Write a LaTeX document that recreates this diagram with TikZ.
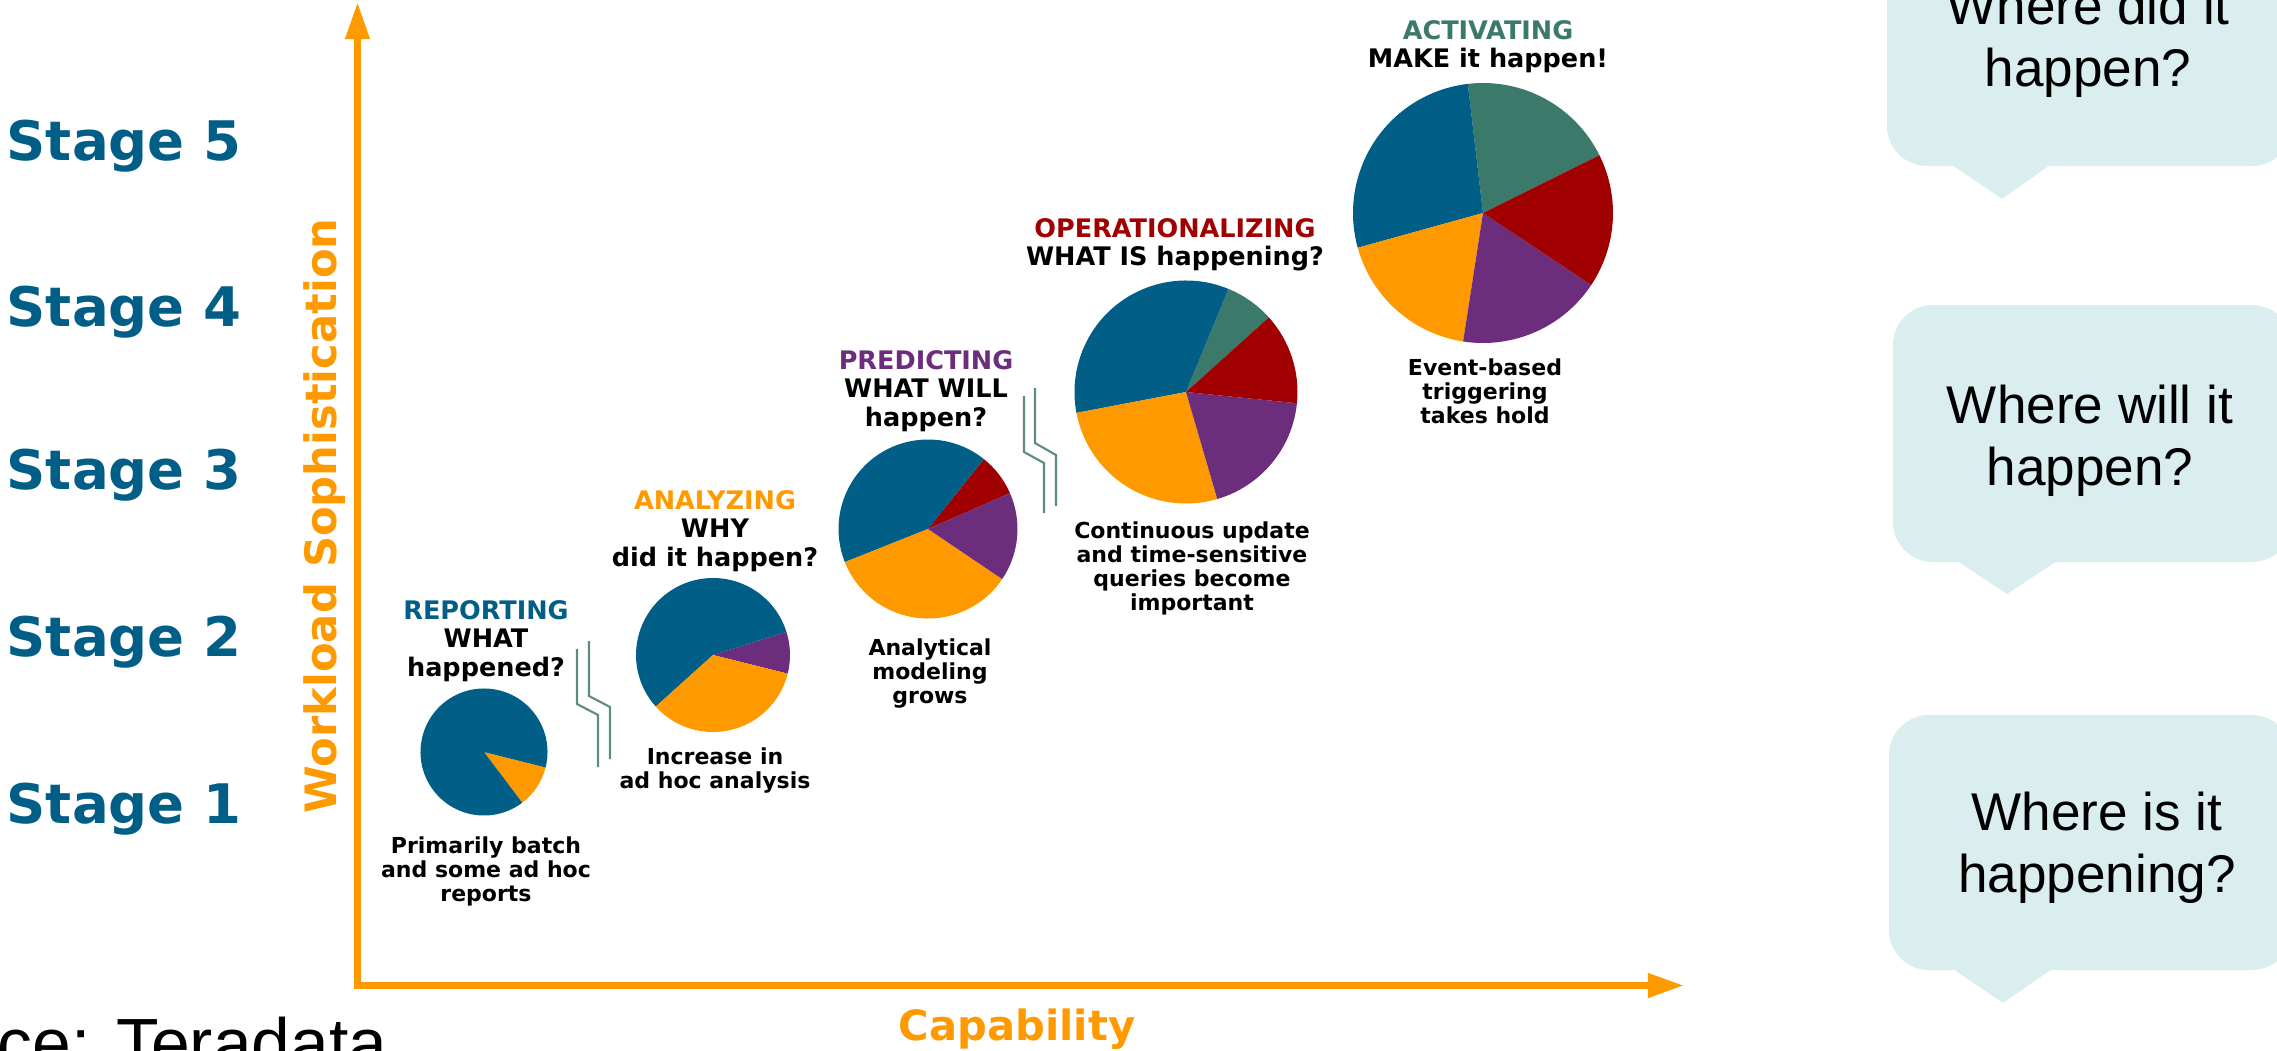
\documentclass[tikz,border=0pt]{standalone}
\usepackage{fontspec}
\setmainfont{DejaVu Sans}
\newfontfamily\arialf{Liberation Sans}
\usetikzlibrary{arrows.meta}

\definecolor{tdblue}{HTML}{005E87}
\definecolor{tdorange}{HTML}{FF9900}
\definecolor{tdpurple}{HTML}{6B2D7C}
\definecolor{tdred}{HTML}{A00000}
\definecolor{tdteal}{HTML}{3B7A6B}
\definecolor{bubblefill}{HTML}{DAEDEF}
\definecolor{zigcol}{HTML}{5E8C7E}

% centred lines whose baseline is the baseline of the first line
\newcommand\stacklines[1]{\vtop{\halign{\hfil##\hfil\cr#1\crcr}}}
% one pie slice: centre, radius, start angle, end angle, colour (angles counted anticlockwise)
\newcommand\pieslice[5]{%
  \fill[#5] (#1) -- ++({-(#3)}:#2) arc[start angle={-(#3)}, end angle={-(#4)}, radius=#2] -- cycle;}

\begin{document}
\begin{tikzpicture}[x=0.01cm, y=-0.01cm,
  lbl/.style={font=\bfseries\fontsize{7.26pt}{8.2pt}\selectfont, inner sep=0pt, anchor=base},
  dsc/.style={font=\bfseries\fontsize{6.26pt}{6.83pt}\selectfont, inner sep=0pt, anchor=base},
  stagelbl/.style={font=\bfseries\fontsize{15.5pt}{18pt}\selectfont, text=tdblue, inner sep=0pt, anchor=base west},
  bubtxt/.style={font=\arialf\fontsize{15.1pt}{17.8pt}\selectfont, inner sep=0pt, anchor=base},
  axislbl/.style={font=\bfseries, text=tdorange, inner sep=0pt, anchor=base},
  axis/.style={line width=2pt, draw=tdorange, line join=miter},
  zig/.style={draw=zigcol, line width=0.6pt},
  bubble/.style={fill=bubblefill},
]
\useasboundingbox (0,0) rectangle (2277,1051);

% ---------- stage names ----------
\node[stagelbl] (s5) at (6,160) {Stage 5};
\node[stagelbl] (s4) at (6,326) {Stage 4};
\node[stagelbl] (s3) at (6,489) {Stage 3};
\node[stagelbl] (s2) at (6,656) {Stage 2};
\node[stagelbl] (s1) at (6,823) {Stage 1};

% ---------- axes ----------
\coordinate (ytop) at (357.5,2);
\coordinate (origin) at (357.5,985.5);
\coordinate (xend) at (1684,985.5);
\draw[axis, {Triangle[length=0.37cm,width=0.23cm]}-{Triangle[length=0.36cm,width=0.23cm]}]
  (ytop) -- (origin) -- (xend);
\node[axislbl, font=\bfseries\fontsize{12.3pt}{14pt}\selectfont, rotate=90] (ylabel) at (336,516) {Workload Sophistication};
\node[axislbl, font=\bfseries\fontsize{11.84pt}{14pt}\selectfont] (xlabel) at (1017,1040) {Capability};

% ---------- source ----------
\node[font=\arialf\fontsize{19.8pt}{22pt}\selectfont, inner sep=0pt, anchor=base west] (src) at (-3,1067) {ce: Teradata};

% ---------- pies ----------
\coordinate (pie1) at (484,752);
\pieslice{pie1}{63.5}{-53}{-14}{tdorange}
\pieslice{pie1}{63.5}{-14}{307}{tdblue}

\coordinate (pie2) at (713,655);
\pieslice{pie2}{77}{-14}{17.5}{tdpurple}
\pieslice{pie2}{77}{17.5}{222}{tdblue}
\pieslice{pie2}{77}{222}{346}{tdorange}

\coordinate (pie3) at (928,529);
\pieslice{pie3}{89.5}{23.6}{51.4}{tdred}
\pieslice{pie3}{89.5}{51.4}{201.7}{tdblue}
\pieslice{pie3}{89.5}{201.7}{326}{tdorange}
\pieslice{pie3}{89.5}{326}{383.6}{tdpurple}

\coordinate (pie4) at (1186,392);
\pieslice{pie4}{111.5}{42}{67.6}{tdteal}
\pieslice{pie4}{111.5}{67.6}{190.8}{tdblue}
\pieslice{pie4}{111.5}{190.8}{286.3}{tdorange}
\pieslice{pie4}{111.5}{286.3}{354.2}{tdpurple}
\pieslice{pie4}{111.5}{354.2}{402}{tdred}

\coordinate (pie5) at (1483,213);
\pieslice{pie5}{130}{26.4}{96.7}{tdteal}
\pieslice{pie5}{130}{96.7}{195.5}{tdblue}
\pieslice{pie5}{130}{195.5}{261.2}{tdorange}
\pieslice{pie5}{130}{261.2}{326.4}{tdpurple}
\pieslice{pie5}{130}{326.4}{386.4}{tdred}

% ---------- titles above the pies ----------
\node[lbl] (t1) at (486,619) {\stacklines{\textcolor{tdblue}{REPORTING}\cr WHAT\cr happened?}};
\node[lbl] (t2) at (715,509) {\stacklines{\textcolor{tdorange}{ANALYZING}\cr WHY\cr did it happen?}};
\node[lbl] (t3) at (926,369) {\stacklines{\textcolor{tdpurple}{PREDICTING}\cr WHAT WILL\cr happen?}};
\node[lbl] (t4) at (1175,237) {\stacklines{\textcolor{tdred}{OPERATIONALIZING}\cr WHAT IS happening?}};
\node[lbl] (t5) at (1488,39) {\stacklines{\textcolor{tdteal}{ACTIVATING}\cr MAKE it happen!}};

% ---------- notes below the pies ----------
\node[dsc] (d1) at (486,853) {\stacklines{Primarily batch\cr and some ad hoc\cr reports}};
\node[dsc] (d2) at (715,764) {\stacklines{Increase in\cr ad hoc analysis}};
\node[dsc] (d3) at (930,655) {\stacklines{Analytical\cr modeling\cr grows}};
\node[dsc] (d4) at (1192,538) {\stacklines{Continuous update\cr and time-sensitive\cr queries become\cr important}};
\node[dsc] (d5) at (1485,375) {\stacklines{Event-based\cr triggering\cr takes hold}};

% ---------- double zigzag breaks ----------
\coordinate (za1) at (577,649); \coordinate (za2) at (577,704);
\coordinate (za3) at (598,715); \coordinate (za4) at (598,767);
\coordinate (zb1) at (589,641); \coordinate (zb2) at (589,696);
\coordinate (zb3) at (610,707); \coordinate (zb4) at (610,759);
\draw[zig] (za1) -- (za2) -- (za3) -- (za4);
\draw[zig] (zb1) -- (zb2) -- (zb3) -- (zb4);

\coordinate (zc1) at (1024,396); \coordinate (zc2) at (1024,452);
\coordinate (zc3) at (1044,463); \coordinate (zc4) at (1044,513);
\coordinate (zd1) at (1035,388); \coordinate (zd2) at (1035,443);
\coordinate (zd3) at (1056,455); \coordinate (zd4) at (1056,506);
\draw[zig] (zc1) -- (zc2) -- (zc3) -- (zc4);
\draw[zig] (zd1) -- (zd2) -- (zd3) -- (zd4);

% ---------- speech bubbles ----------
\fill[bubble, rounded corners=0.4cm] (1887,-100) rectangle (2292,166);
\fill[bubble] (1952,165) -- (2002,199) -- (2050,165) -- cycle;
\node[bubtxt] (q1) at (2088,24) {\stacklines{Where did it\cr happen?}};

\fill[bubble, rounded corners=0.4cm] (1893,305) rectangle (2292,562);
\fill[bubble] (1957,561) -- (2007,594) -- (2057,561) -- cycle;
\node[bubtxt] (q2) at (2090,423) {\stacklines{Where will it\cr happen?}};

\fill[bubble, rounded corners=0.4cm] (1889,715) rectangle (2292,970);
\fill[bubble] (1953,969) -- (2003,1003) -- (2052,969) -- cycle;
\node[bubtxt] (q3) at (2097,830) {\stacklines{Where is it\cr happening?}};
\end{tikzpicture}
\end{document}
